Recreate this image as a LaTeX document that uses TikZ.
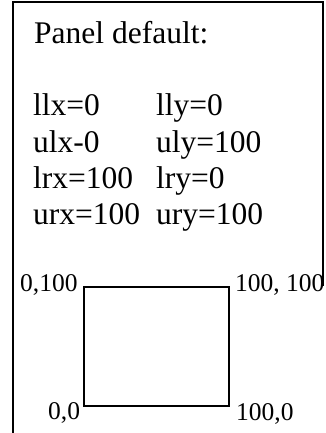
\documentclass[tikz,border=0pt]{standalone}
\usepackage{fontspec}
\setmainfont{Liberation Serif}
\begin{document}
\begin{tikzpicture}[x=1pt,y=-1pt,
  big/.style={inner sep=0pt,anchor=base west,font=\fontsize{31.5}{36}\selectfont},
  lab/.style={inner sep=0pt,anchor=base west,font=\fontsize{25.5}{30}\selectfont},
  frame/.style={line width=2pt,line cap=rect},
  panelline/.style={line width=1.6pt}]
\useasboundingbox (0,0) rectangle (325,433);
\fill[white] (0,0) rectangle (325,433);
% outer frame (cut off at bottom and lower right)
\draw[frame] (13,433) -- (13,2.5) -- (322.5,2.5) -- (322.5,285);
% texts
\node[big] (title) at (34,43.5) {Panel default:};
\node[big] (llx) at (33,116) {llx=0};
\node[big] (lly) at (156,116) {lly=0};
\node[big] (ulx) at (33,152) {ulx-0};
\node[big] (uly) at (156,152) {uly=100};
\node[big] (lrx) at (33,188) {lrx=100};
\node[big] (lry) at (156,188) {lry=0};
\node[big] (urx) at (33,224) {urx=100};
\node[big] (ury) at (156,224) {ury=100};
% panel rectangle
\coordinate (ll) at (84,406);
\coordinate (ur) at (229,287);
\draw[panelline] (ll) rectangle (ur);
% corner labels
\node[lab] (tl) at (20,291) {0,100};
\node[lab] (tr) at (235,291) {100, 100};
\node[lab] (bl) at (48,419) {0,0};
\node[lab] (br) at (236,420) {100,0};
\end{tikzpicture}
\end{document}
